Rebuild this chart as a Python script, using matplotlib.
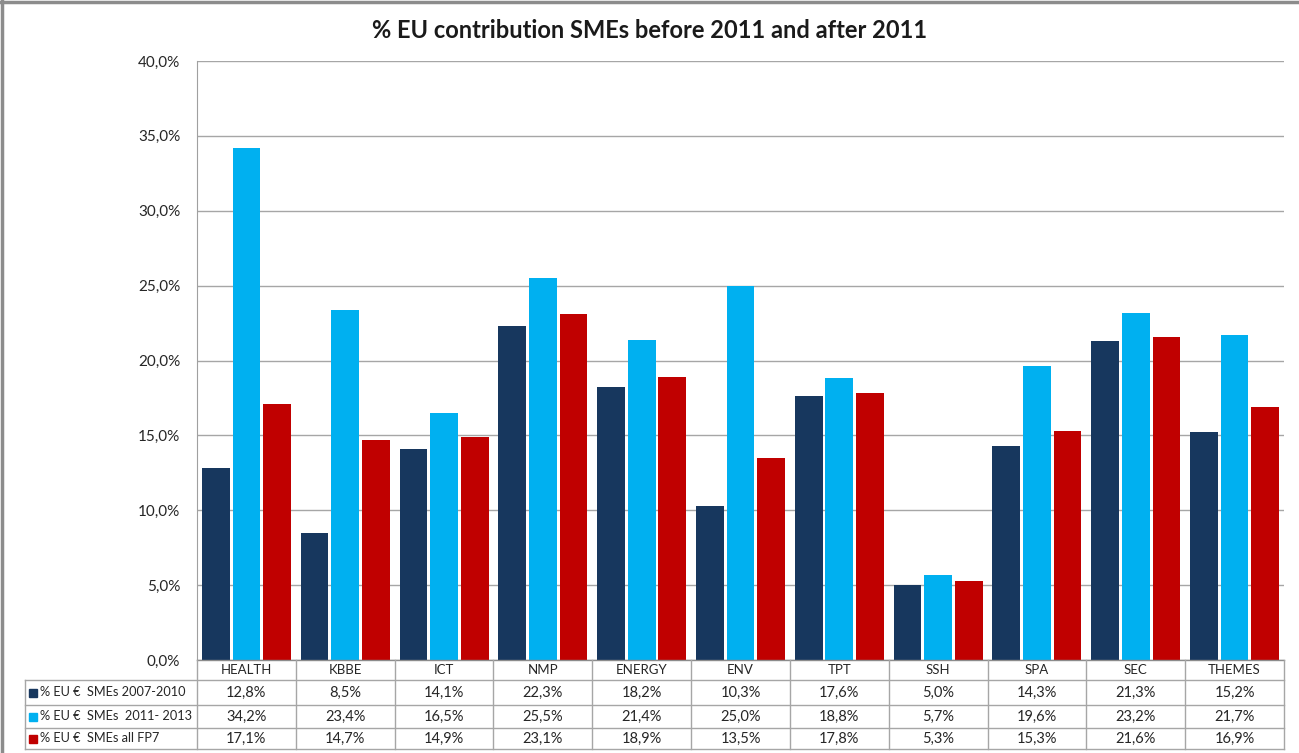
import numpy as np
import matplotlib.pyplot as plt
from matplotlib.ticker import FuncFormatter
from matplotlib.patches import Rectangle

plt.rcParams['font.family'] = ['Lato', 'DejaVu Sans']

categories = ['HEALTH', 'KBBE', 'ICT', 'NMP', 'ENERGY', 'ENV', 'TPT', 'SSH', 'SPA', 'SEC', 'THEMES']
series_names = ['% EU €  SMEs 2007-2010', '% EU €  SMEs  2011- 2013', '% EU €  SMEs all FP7']
smes_2007_2010 = [12.8, 8.5, 14.1, 22.3, 18.2, 10.3, 17.6, 5.0, 14.3, 21.3, 15.2]
smes_2011_2013 = [34.2, 23.4, 16.5, 25.5, 21.4, 25.0, 18.8, 5.7, 19.6, 23.2, 21.7]
smes_all_fp7 = [17.1, 14.7, 14.9, 23.1, 18.9, 13.5, 17.8, 5.3, 15.3, 21.6, 16.9]
colors = ['#17375E', '#00B0F0', '#C00000']

W, H = 1299, 753
fig = plt.figure(figsize=(W / 100, H / 100), dpi=100)


def fx(px):
    return px / W


def fy(py):
    return 1 - py / H


# outer chart border (only top and left are visible in the reference)
fig.add_artist(plt.Line2D([0, 1], [fy(1.5)] * 2, color='#8C8C8C', linewidth=2.5))
fig.add_artist(plt.Line2D([fx(1.5)] * 2, [0, 1], color='#8C8C8C', linewidth=2.5))

# plot area in pixels
x0, x1 = 197, 1284
y_top, y_bot = 61, 660
ax = fig.add_axes([x0 / W, 1 - y_bot / H, (x1 - x0) / W, (y_bot - y_top) / H])

n = len(categories)
x = np.arange(n)
width = 0.28
step = 0.31
for i, vals in enumerate([smes_2007_2010, smes_2011_2013, smes_all_fp7]):
    ax.bar(x + (i - 1) * step, vals, width, color=colors[i], zorder=3)

ax.set_xlim(-0.5, n - 0.5)
ax.set_ylim(0, 40)
ax.set_yticks(np.arange(0, 41, 5))
ax.yaxis.set_major_formatter(FuncFormatter(lambda v, p: f'{v:.1f}%'.replace('.', ',')))
ax.tick_params(axis='y', labelsize=11, colors='#262626', length=0, pad=12)
ax.set_xticks([])
ax.grid(axis='y', color='#A6A6A6', linewidth=1, zorder=0)
for s in ['top', 'right', 'bottom']:
    ax.spines[s].set_visible(False)
ax.spines['left'].set_color('#A0A0A0')

fig.text(0.5, fy(31), '% EU contribution SMEs before 2011 and after 2011',
         ha='center', va='center', fontsize=17, fontweight='bold', color='#1a1a1a')

# data table under the plot, drawn in pixel coordinates
tx0 = 25
rows_y = [660, 680, 705, 728, 749]
colw = (x1 - x0) / n
line_kw = dict(color='#A6A6A6', linewidth=1)

fig.add_artist(plt.Line2D([fx(x0), fx(x1)], [fy(rows_y[0])] * 2, color='#8C8C8C', linewidth=1))
for r in rows_y[1:]:
    fig.add_artist(plt.Line2D([fx(tx0), fx(x1)], [fy(r)] * 2, **line_kw))
fig.add_artist(plt.Line2D([fx(tx0)] * 2, [fy(rows_y[1]), fy(rows_y[-1])], **line_kw))
for j in range(n + 1):
    xp = x0 + j * colw
    fig.add_artist(plt.Line2D([fx(xp)] * 2, [fy(rows_y[0]), fy(rows_y[-1])], **line_kw))

for j, cat in enumerate(categories):
    cx = x0 + (j + 0.5) * colw
    fig.text(fx(cx), fy((rows_y[0] + rows_y[1]) / 2), cat, ha='center', va='center',
             fontsize=9.5, color='#262626')
    for i, vals in enumerate([smes_2007_2010, smes_2011_2013, smes_all_fp7]):
        cy = (rows_y[i + 1] + rows_y[i + 2]) / 2
        fig.text(fx(cx), fy(cy), f'{vals[j]:.1f}%'.replace('.', ','), ha='center', va='center',
                 fontsize=10.5, color='#262626')

for i, name in enumerate(series_names):
    cy = (rows_y[i + 1] + rows_y[i + 2]) / 2
    fig.add_artist(Rectangle((fx(29), fy(cy + 4)), 8 / W, 8 / H, color=colors[i],
                             transform=fig.transFigure))
    fig.text(fx(40), fy(cy), name, ha='left', va='center', fontsize=9.2, color='#262626')

fig.savefig('out.png', dpi=100)
